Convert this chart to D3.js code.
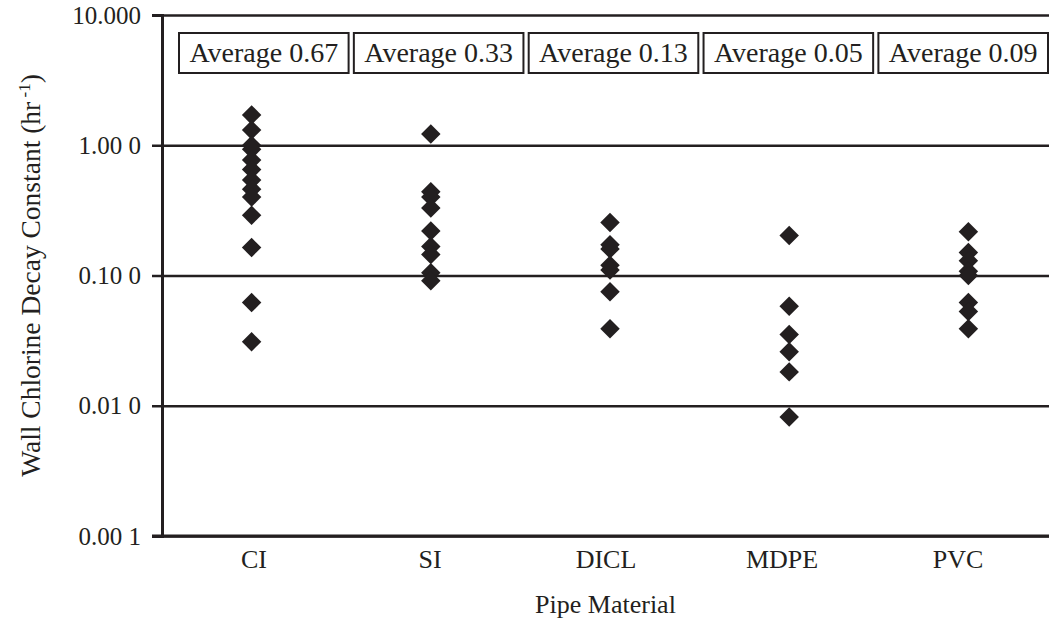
<!DOCTYPE html>
<html>
<head>
<meta charset="utf-8">
<script src="https://cdn.jsdelivr.net/npm/d3@7"></script>
<style>
	body { margin:0; background:#fff; }
	text { font-family:"Liberation Serif","Times New Roman",serif; fill:#231f20; }
</style>
</head>
<body>
<div id="chart"></div>
<script>
var WIDTH = 1049;
var HEIGHT = 623;
var INK = '#231f20';

// pipe materials along the x axis
var materials = ['CI','SI','DICL','MDPE','PVC'];
var averages = ['0.67','0.33','0.13','0.05','0.09'];

// wall decay constants (hr^-1)
var ciValues   = [1.71,1.31,1.0,0.93,0.77,0.65,0.54,0.46,0.40,0.29,0.164,0.062,0.031];
var siValues   = [1.22,0.44,0.40,0.33,0.22,0.167,0.145,0.105,0.091];
var diclValues = [0.255,0.172,0.16,0.12,0.11,0.075,0.039];
var mdpeValues = [0.203,0.058,0.0353,0.026,0.0182,0.0082];
var pvcValues  = [0.217,0.15,0.13,0.108,0.1,0.062,0.053,0.039];

var yTicks = [10,1,0.1,0.01,0.001];
var yTickLabels = ['10.000','1.00 0','0.10 0','0.01 0','0.00 1'];

var margin = {left:162, top:15, bottom:87};

var seriesValues = [ciValues,siValues,diclValues,mdpeValues,pvcValues];
var points = [];
materials.forEach(function(m,i){
	seriesValues[i].forEach(function(v){ points.push({material:m, value:v}); });
});

var svg = d3.select('#chart').append('svg')
	.attr('width',WIDTH).attr('height',HEIGHT);

var x = d3.scaleBand().domain(materials).range([margin.left,1058]);
// the category names sit a little left of the points in the original
var labelX = d3.scaleBand().domain(materials).range([166,1046]);
var y = d3.scaleLog().domain([0.001,10]).range([HEIGHT-margin.bottom,margin.top]);

//grid lines at each decade
var grid = svg.append('g').attr('transform','translate('+margin.left+',0)')
	.call(d3.axisLeft(y).tickValues(yTicks).tickFormat('').tickSize(-(WIDTH-margin.left)).tickSizeOuter(0));
grid.selectAll('path').remove();
grid.selectAll('.tick line').attr('stroke',INK).attr('stroke-width',2.5);

// y axis with the odd spaced labels of the original
var yAxis = svg.append('g').attr('transform','translate('+margin.left+',0)')
	.call(d3.axisLeft(y).tickValues(yTicks)
		.tickFormat(function(d,i){ return yTickLabels[i]; })
		.tickSize(10).tickPadding(11));
yAxis.select('path').attr('stroke',INK).attr('stroke-width',3);
yAxis.selectAll('.tick line').attr('stroke',INK).attr('stroke-width',2.5);
yAxis.selectAll('text').style('font-size','25px').attr('fill',INK);

var xAxis = svg.append('g').attr('transform','translate(0,'+(HEIGHT-margin.bottom)+')')
	.call(d3.axisBottom(labelX).tickSize(0).tickPadding(14));
xAxis.select('path').remove();
xAxis.selectAll('text').style('font-size','26px').attr('fill',INK);
svg.append('line')
	.attr('x1',margin.left-10).attr('x2',WIDTH)
	.attr('y1',y(0.001)).attr('y2',y(0.001))
	.attr('stroke',INK).attr('stroke-width',3);

// average boxes across the top
var boxX = d3.scaleBand().domain(materials).range([179,1048]).paddingInner(0.03);
var boxes = svg.append('g').selectAll('g').data(materials).enter().append('g')
	.attr('transform',function(d){ return 'translate('+boxX(d)+',33)'; });
boxes.append('rect')
	.attr('width',boxX.bandwidth()).attr('height',40)
	.attr('fill','#fff').attr('stroke',INK).attr('stroke-width',2);
boxes.append('text')
	.attr('x',boxX.bandwidth()/2).attr('y',29)
	.attr('text-anchor','middle').style('font-size','28px')
	.text(function(d,i){ return 'Average '+averages[i]; });

// diamonds
var diamond = d3.symbol().type(d3.symbolSquare).size(190);
svg.append('g').selectAll('path').data(points).enter().append('path')
	.attr('d',diamond)
	.attr('transform',function(d){
		return 'translate('+(x(d.material)+x.bandwidth()/2)+','+y(d.value)+') rotate(45)';
	})
	.attr('fill',INK);

// axis titles
svg.append('text')
	.attr('x',(margin.left+WIDTH)/2).attr('y',613)
	.attr('text-anchor','middle').style('font-size','26px')
	.text('Pipe Material');

var yTitle = svg.append('text')
	.attr('transform','translate(40,'+((margin.top+HEIGHT-margin.bottom)/2)+') rotate(-90)')
	.attr('text-anchor','middle').style('font-size','27.5px');
yTitle.append('tspan').text('Wall Chlorine Decay Constant (hr');
yTitle.append('tspan').attr('dy',-10).style('font-size','17px').text(' -1');
yTitle.append('tspan').attr('dy',10).text(')');
</script>
</body>
</html>
